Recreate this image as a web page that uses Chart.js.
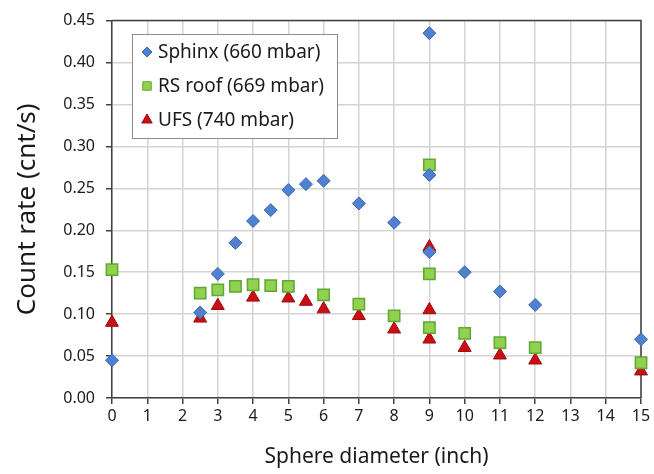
<!DOCTYPE html>
<html>
<head>
<meta charset="utf-8">
<script src="https://cdn.jsdelivr.net/npm/chart.js@4"></script>
<style>
  html, body { margin: 0; padding: 0; background: #fff; }
  #wrap { width: 654px; height: 474px; }
</style>
</head>
<body>
<div id="wrap"><canvas id="sphereChart" width="654" height="474"></canvas></div>
<script>
// sphere diameters (inch) and count rates (cnt/s)
const sphinxX = [0, 2.5, 3, 3.5, 4, 4.5, 5, 5.5, 6, 7, 8, 9, 9, 9, 10, 11, 12, 15];
const sphinxY = [0.045, 0.102, 0.148, 0.185, 0.211, 0.224, 0.248, 0.255, 0.259, 0.232, 0.209, 0.435, 0.266, 0.174, 0.150, 0.127, 0.111, 0.070];

const roofX = [0, 2.5, 3, 3.5, 4, 4.5, 5, 6, 7, 8, 9, 9, 9, 10, 11, 12, 15];
const roofY = [0.153, 0.125, 0.129, 0.133, 0.135, 0.134, 0.133, 0.123, 0.112, 0.098, 0.278, 0.148, 0.084, 0.077, 0.066, 0.060, 0.042];

const ufsX = [0, 2.5, 3, 4, 5, 5.5, 6, 7, 8, 9, 9, 9, 10, 11, 12, 15];
const ufsY = [0.090, 0.095, 0.110, 0.120, 0.119, 0.115, 0.106, 0.098, 0.082, 0.180, 0.105, 0.070, 0.060, 0.051, 0.045, 0.032];

const seriesNames = ['Sphinx (660 mbar)', 'RS roof (669 mbar)', 'UFS (740 mbar)'];
const xTicks = [0, 1, 2, 3, 4, 5, 6, 7, 8, 9, 10, 11, 12, 13, 14, 15];
const yTicks = [0, 0.05, 0.10, 0.15, 0.20, 0.25, 0.30, 0.35, 0.40, 0.45];

const FONT = '"Noto Sans", "Open Sans", sans-serif';

function toPoints(xs, ys) {
    return xs.map((x, i) => ({ x: x, y: ys[i] }));
}

// top + right frame lines
const frame = {
    id: 'frame',
    beforeDatasetsDraw(chart) {
        const { ctx, chartArea: a } = chart;
        ctx.save();
        ctx.strokeStyle = '#404040';
        ctx.lineWidth = 1.5;
        ctx.beginPath();
        ctx.moveTo(a.left, a.top);
        ctx.lineTo(a.right, a.top);
        ctx.lineTo(a.right, a.bottom);
        ctx.stroke();
        ctx.restore();
    }
};

// legend box drawn inside the plot, like the original
const boxLegend = {
    id: 'boxLegend',
    afterDraw(chart) {
        const ctx = chart.ctx;
        const ds = chart.data.datasets;
        const left = 132, top = 34, w = 205, h = 104;
        ctx.save();
        ctx.fillStyle = '#fff';
        ctx.fillRect(left, top, w, h);
        ctx.strokeStyle = '#8c8c8c';
        ctx.lineWidth = 1;
        ctx.strokeRect(left + 0.5, top + 0.5, w, h);
        ctx.font = '19px ' + FONT;
        ctx.textBaseline = 'middle';
        ds.forEach((d, i) => {
            const cy = top + 18 + i * 34;
            ctx.fillStyle = d.backgroundColor;
            ctx.strokeStyle = d.borderColor;
            ctx.lineWidth = 1;
            Chart.helpers.drawPoint(ctx, {
                pointStyle: d.pointStyle,
                radius: d.legendRadius,
                borderWidth: 1,
                rotation: 0
            }, 147, cy);
            ctx.fillStyle = '#1a1a1a';
            ctx.fillText(d.label, 158, cy + 1);
        });
        ctx.restore();
    }
};

new Chart(document.getElementById('sphereChart'), {
    type: 'scatter',
    data: {
        datasets: [
            {
                label: seriesNames[0],
                data: toPoints(sphinxX, sphinxY),
                pointStyle: 'rectRot',
                pointRadius: 6.5,
                legendRadius: 5,
                backgroundColor: '#4f81d0',
                borderColor: '#3a67b0',
                borderWidth: 1,
                clip: false
            },
            {
                label: seriesNames[1],
                data: toPoints(roofX, roofY),
                pointStyle: 'rect',
                pointRadius: 8,
                legendRadius: 6,
                backgroundColor: '#92d050',
                borderColor: '#5fa832',
                borderWidth: 1.5,
                clip: false
            },
            {
                label: seriesNames[2],
                data: toPoints(ufsX, ufsY),
                pointStyle: 'triangle',
                pointRadius: 7.5,
                legendRadius: 6,
                backgroundColor: '#c80f14',
                borderColor: '#a00a0e',
                borderWidth: 1,
                clip: false
            }
        ]
    },
    options: {
        responsive: false,
        animation: false,
        layout: { padding: { left: 0, right: 13, top: 18, bottom: 0 } },
        plugins: {
            legend: { display: false },
            tooltip: { enabled: false }
        },
        scales: {
            x: {
                type: 'linear',
                min: 0,
                max: 15,
                afterBuildTicks: axis => { axis.ticks = xTicks.map(v => ({ value: v })); },
                grid: { color: '#d4d4d4', lineWidth: 1.5, tickLength: 6, tickColor: '#404040' },
                border: { color: '#404040', width: 1.5 },
                ticks: { color: '#1a1a1a', font: { family: FONT, size: 16 }, padding: 3, maxRotation: 0 },
                title: { display: true, text: 'Sphere diameter (inch)', color: '#1a1a1a', font: { family: FONT, size: 21 }, padding: { top: 0, bottom: 4 } },
                afterFit: axis => { axis.height = 76; }
            },
            y: {
                min: 0,
                max: 0.45,
                afterBuildTicks: axis => { axis.ticks = yTicks.map(v => ({ value: v })); },
                grid: { color: '#d4d4d4', lineWidth: 1.5, tickLength: 6, tickColor: '#404040' },
                border: { color: '#404040', width: 1.5 },
                ticks: { color: '#1a1a1a', font: { family: FONT, size: 16 }, padding: 11, callback: v => v.toFixed(2) },
                title: { display: true, text: 'Count rate (cnt/s)', color: '#1a1a1a', font: { family: FONT, size: 26 }, padding: { top: 12, bottom: 0 } },
                afterFit: axis => { axis.width = 112; }
            }
        }
    },
    plugins: [frame, boxLegend]
});
</script>
</body>
</html>
